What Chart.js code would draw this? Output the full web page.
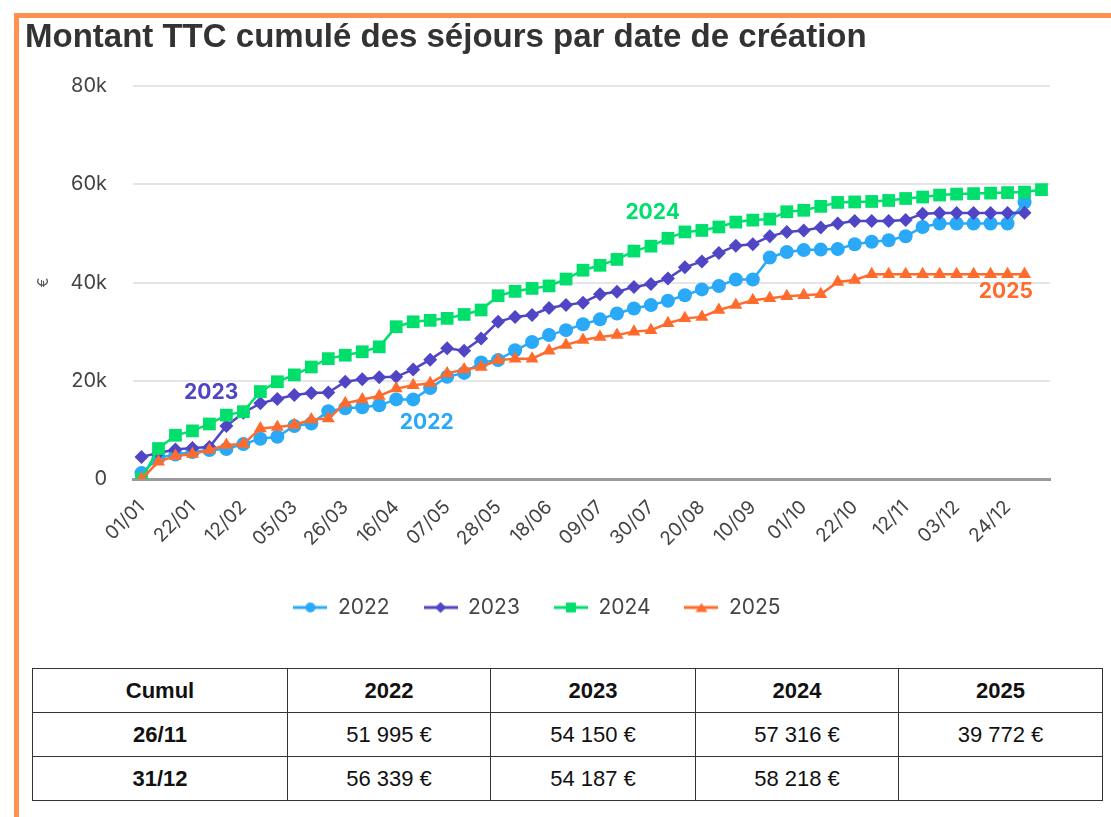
<!DOCTYPE html>
<html>
<head>
<meta charset="utf-8">
<script src="https://cdn.jsdelivr.net/npm/chart.js@4/dist/chart.umd.min.js"></script>
<style>
  html, body { margin:0; padding:0; background:#fff; }
  body { width:1111px; height:817px; position:relative; overflow:hidden; font-family:"Liberation Sans", Arial, sans-serif; }
  #topbar { position:absolute; left:14px; top:13px; width:1097px; height:5px; background:#FF914D; }
  #leftbar { position:absolute; left:14px; top:13px; width:5px; height:804px; background:#FF914D; }
  #title { position:absolute; left:25px; top:19px; font-weight:bold; font-size:33px; line-height:33px; color:#333; white-space:nowrap; z-index:2; }
  #wrap { position:absolute; left:0; top:0; width:1111px; height:640px; }
  table { position:absolute; left:32px; top:668px; width:1070px; border-collapse:collapse; table-layout:fixed; color:#111; }
  td, th { border:1.5px solid #333; text-align:center; font-size:22px; height:43px; padding:0; }
  th { font-weight:bold; }
  td.rh { font-weight:bold; }
</style>
</head>
<body>
<div id="topbar"></div>
<div id="leftbar"></div>
<div id="title">Montant TTC cumulé des séjours par date de création</div>
<div id="wrap"><canvas id="c" width="1111" height="640"></canvas></div>
<table id="tbl"></table>
<script>
// ---- data ----
const labels = ["01/01","08/01","15/01","22/01","29/01","05/02","12/02","19/02","26/02","05/03","12/03","19/03","26/03","02/04","09/04","16/04","23/04","30/04","07/05","14/05","21/05","28/05","04/06","11/06","18/06","25/06","02/07","09/07","16/07","23/07","30/07","06/08","13/08","20/08","27/08","03/09","10/09","17/09","24/09","01/10","08/10","15/10","22/10","29/10","05/11","12/11","19/11","26/11","03/12","10/12","17/12","24/12","31/12","07/01"];

const series2022 = [1200,4300,5000,5500,5900,6100,7100,8200,8600,10800,11300,13800,14400,14600,15000,16200,16200,18500,20800,21600,23700,24200,26200,27900,29300,30300,31500,32500,33700,34700,35400,36300,37400,38600,39300,40600,40600,45100,46200,46600,46700,46800,47800,48300,48600,49400,51300,51995,52000,52000,52000,52000,56339];
const series2023 = [4500,5300,6000,6300,6500,10800,13500,15400,16300,17100,17500,17600,19800,20300,20700,20800,22300,24300,26600,26100,28600,32000,33000,33400,34800,35400,35900,37600,38100,39100,39700,40800,43100,44300,46000,47500,47800,49400,50300,50600,51200,52000,52500,52500,52500,52700,54000,54150,54150,54150,54150,54150,54187];
const series2024 = [0,6200,8900,9800,11200,13000,13700,17800,19800,21200,22800,24500,25200,25900,26900,31000,32000,32300,32700,33500,34400,37300,38200,38800,39300,40700,42500,43500,44700,46400,47400,49000,50300,50600,51300,52300,52700,52900,54400,54700,55500,56300,56400,56500,56700,57100,57400,57800,58000,58100,58200,58300,58400,58900];
const series2025 = [0,3500,4700,5100,5900,6900,7100,10300,10600,11000,12100,12300,15400,16200,16900,18400,19100,19500,21500,22300,22800,24200,24500,24500,26100,27300,28300,28900,29300,30000,30300,31700,32700,33000,34400,35400,36400,36800,37200,37400,37600,40100,40500,41700,41700,41700,41700,41700,41700,41700,41700,41700,41700];

const seriesNames = ["2022","2023","2024","2025"];
const yTicks = [0,20000,40000,60000,80000];

// summary table
const tableHeader = ["Cumul","2022","2023","2024","2025"];
const tableRowLabels = ["26/11","31/12"];
const tableRow1 = ["51 995 €","54 150 €","57 316 €","39 772 €"];
const tableRow2 = ["56 339 €","54 187 €","58 218 €",""];

// ---- styles ----
const colors = ["#29A9F7","#4F45C5","#00DE6C","#FF6B2C"];
const pointStyles = ["circle","rectRot","rect","triangle"];
const pointRadii = [7,7,9,7.5];
const drawOrder = [4,3,2,1];
// series tags, placed in data space (category index, value)
const tagX = [16.8, 4.1, 30.1, 50.9];
const tagY = [11400, 17600, 54300, 38100];

// ---- table ----
(function(){
  const t = document.getElementById('tbl');
  const widths = [255,203,205,203,204];
  let cg = '<colgroup>' + widths.map(w=>'<col style="width:'+w+'px">').join('') + '</colgroup>';
  let h = '<tr>' + tableHeader.map(x=>'<th>'+x+'</th>').join('') + '</tr>';
  const rows = [tableRow1, tableRow2];
  rows.forEach((r,i)=>{ h += '<tr><td class="rh">'+tableRowLabels[i]+'</td>' + r.map(x=>'<td>'+x+'</td>').join('') + '</tr>'; });
  t.innerHTML = cg + h;
})();

// ---- legend icons ----
function icon(color, style, r) {
  const c = document.createElement('canvas');
  c.width = 34; c.height = 18;
  const g = c.getContext('2d');
  g.strokeStyle = color; g.lineWidth = 3;
  g.beginPath(); g.moveTo(0,9); g.lineTo(34,9); g.stroke();
  g.fillStyle = color;
  const x = 17, y = 9;
  g.beginPath();
  if (style === 'circle') { g.arc(x,y,r,0,Math.PI*2); }
  else if (style === 'rectRot') { g.moveTo(x-r,y); g.lineTo(x,y-r); g.lineTo(x+r,y); g.lineTo(x,y+r); g.closePath(); }
  else if (style === 'rect') { const s=r*Math.SQRT1_2; g.rect(x-s,y-s,2*s,2*s); }
  else { const h = r*1.5; g.moveTo(x-r,y+h/2); g.lineTo(x,y-h/2); g.lineTo(x+r,y+h/2); g.closePath(); }
  g.fill();
  return c;
}
const icons = colors.map((c,i)=>icon(c, pointStyles[i], [5,5.5,7,6][i]));

const allSeries = [series2022, series2023, series2024, series2025];

const tagPlugin = {
  id: 'tags',
  afterDatasetsDraw(chart) {
    const {ctx, scales:{x,y}} = chart;
    ctx.save();
    ctx.font = 'bold 21px Inter, "DejaVu Sans", sans-serif';
    ctx.textAlign = 'center';
    ctx.textBaseline = 'middle';
    seriesNames.forEach((n,i)=>{
      ctx.fillStyle = colors[i];
      ctx.fillText(n, x.getPixelForValue(tagX[i]), y.getPixelForValue(tagY[i]));
    });
    ctx.restore();
  }
};

new Chart(document.getElementById('c'), {
  type: 'line',
  data: {
    labels: labels,
    datasets: allSeries.map((d,i)=>({
      label: seriesNames[i],
      data: d,
      borderColor: colors[i],
      backgroundColor: colors[i],
      pointBackgroundColor: colors[i],
      pointBorderColor: colors[i],
      pointBorderWidth: 0,
      pointStyle: pointStyles[i],
      pointRadius: pointRadii[i],
      borderWidth: 2.5,
      tension: 0,
      fill: false,
      order: drawOrder[i]
    }))
  },
  options: {
    responsive: false,
    animation: false,
    devicePixelRatio: 1,
    layout: { padding: { left: 24, right: 61, top: 86, bottom: 12 } },
    plugins: {
      tooltip: { enabled: false },
      title: { display: false },
      legend: {
        position: 'bottom',
        labels: {
          usePointStyle: true,
          pointStyleWidth: 34,
          padding: 34,
          color: '#444',
          font: { family: 'Inter, "Liberation Sans", sans-serif', size: 21 },
          sort: (a, b) => a.datasetIndex - b.datasetIndex,
          generateLabels(chart) {
            const items = Chart.defaults.plugins.legend.labels.generateLabels(chart);
            items.forEach((it)=>{ it.pointStyle = icons[it.datasetIndex]; });
            return items;
          }
        }
      }
    },
    scales: {
      x: {
        type: 'category',
        offset: true,
        grid: { display: false, drawTicks: false },
        border: { display: true, color: '#9a9a9a', width: 3 },
        afterFit(scale) { scale.height = 84; },
        ticks: {
          autoSkip: false,
          minRotation: 45, maxRotation: 45,
          padding: 17,
          color: '#444',
          font: { family: 'Inter, "Liberation Sans", sans-serif', size: 19 },
          callback(v, idx) { return idx % 3 === 0 ? labels[idx] : ''; }
        }
      },
      y: {
        min: yTicks[0], max: yTicks[yTicks.length-1],
        afterFit(scale) { scale.width = 109; },
        afterBuildTicks(scale) { scale.ticks = yTicks.map(v=>({value:v})); },
        grid: {
          drawTicks: false,
          color: (c)=> c.tick && c.tick.value === 0 ? 'rgba(0,0,0,0)' : '#e6e6e6',
          lineWidth: 2
        },
        border: { display: false },
        title: { display: true, text: '€', color: '#555', font: { family: 'Inter, sans-serif', size: 15 }, padding: { top: 10, bottom: 0 } },
        ticks: {
          padding: 26,
          color: '#444',
          font: { family: 'Inter, "Liberation Sans", sans-serif', size: 20 },
          callback(v) { return v === 0 ? '0' : (v/1000) + 'k'; }
        }
      }
    }
  },
  plugins: [tagPlugin]
});
</script>
</body>
</html>
